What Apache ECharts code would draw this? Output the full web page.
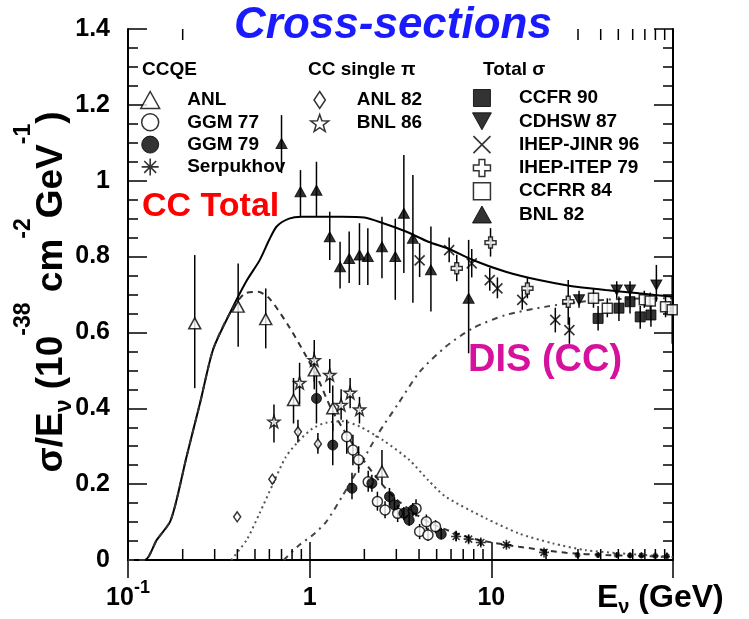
<!DOCTYPE html>
<html><head><meta charset="utf-8">
<script src="https://cdn.jsdelivr.net/npm/echarts@6/dist/echarts.min.js"></script>
<style>html,body{margin:0;padding:0;background:#fff}#c{width:749px;height:619px}</style>
</head><body><div id="c"></div>
<script>
// ---------------- data ----------------
// points: [E (GeV), sigma/E, errLow, errHigh]
const ccqeANL = [[0.233,0.624,0.453,0.804],[0.404,0.668,0.562,0.782],[0.573,0.635,0.558,0.716],[0.815,0.422,0.36,0.48],[1.06,0.50,0.45,0.55],[1.34,0.40,0.34,0.46],[2.5,0.233,0.20,0.29]];
const ccqeGGM77 = [[1.6,0.325,0.28,0.37],[1.73,0.29,0.25,0.33],[1.86,0.264,0.23,0.30],[2.1,0.206,0.18,0.235],[2.36,0.154,0.13,0.18],[2.6,0.132,0.11,0.155],[3.05,0.123,0.10,0.145],[3.85,0.136,0.115,0.16],[4.03,0.075,0.055,0.095],[4.39,0.101,0.08,0.12],[4.48,0.066,0.05,0.085],[4.93,0.088,0.07,0.105]];
const ccqeGGM79 = [[1.09,0.426,0.36,0.50],[1.34,0.303,0.25,0.36],[1.71,0.189,0.16,0.23],[2.2,0.202,0.18,0.225],[2.75,0.167,0.145,0.19],[2.93,0.145,0.125,0.165],[3.3,0.123,0.105,0.14],[3.53,0.105,0.09,0.125],[3.7,0.132,0.115,0.15],[5.3,0.068,0.055,0.085]];
const ccqeSerp = [[6.4,0.062,0.05,0.077],[7.5,0.055,0.045,0.066],[8.75,0.046,0.037,0.056],[12.1,0.04,0.033,0.047],[19.5,0.02,0.013,0.027],[29.8,0.013,0.006,0.02],[38.7,0.013,0.006,0.02],[49,0.013,0.006,0.02],[58,0.012,0.005,0.02],[67,0.012,0.005,0.02],[80,0.011,0.004,0.02],[92.6,0.01,0.004,0.02]];
const piANL82 = [[0.399,0.114,null,null],[0.623,0.213,null,null],[0.862,0.338,0.31,0.37],[1.11,0.306,0.28,0.335]];
const piBNL86 = [[0.636,0.365,0.31,0.41],[0.88,0.467,0.41,0.52],[1.06,0.527,0.47,0.58],[1.29,0.488,0.44,0.53],[1.49,0.409,0.37,0.45],[1.67,0.441,0.40,0.48],[1.88,0.397,0.36,0.43]];
const totCCFR90 = [[38.7,0.637,0.605,0.67],[50.4,0.664,0.63,0.695],[58,0.681,0.65,0.71],[66,0.641,0.61,0.67],[75.6,0.646,0.615,0.675]];
const totCDHSW87 = [[30.4,0.686,0.665,0.71],[49,0.712,0.69,0.735],[58,0.712,0.69,0.735],[81,0.725,0.681,0.778]];
const totIHEPJINR96 = [[4.03,0.79,0.746,0.835],[5.86,0.817,0.785,0.85],[7.8,0.782,0.745,0.82],[9.8,0.738,0.71,0.77],[10.8,0.716,0.69,0.745],[14.8,0.686,0.66,0.71],[22.5,0.633,0.60,0.665],[26.9,0.606,0.57,0.64]];
const totIHEPITEP79 = [[6.45,0.769,0.735,0.805],[9.9,0.837,0.80,0.875],[15.8,0.716,0.69,0.745],[26.5,0.681,0.62,0.738]];
const totCCFRR84 = [[36.5,0.69,0.665,0.715],[43.5,0.664,0.64,0.69],[69.5,0.686,0.665,0.71],[75,0.683,0.66,0.705],[91,0.668,0.64,0.695],[99,0.66,0.57,0.75]];
const totBNL82 = [[0.70,1.098,1.02,1.173],[0.89,0.971,0.905,1.028],[1.09,0.975,0.904,1.05],[1.29,0.852,0.791,0.918],[1.47,0.773,0.716,0.839],[1.65,0.795,0.73,0.866],[1.88,0.804,0.725,0.888],[2.09,0.80,0.725,0.875],[2.5,0.826,0.743,0.905],[2.96,0.80,0.686,0.90],[3.3,0.914,0.757,1.068],[3.7,0.848,0.678,1.015],[4.65,0.765,0.655,0.879],[7.5,0.69,0.545,0.844]];

// model curves
const totalE = [0.1,0.124,0.144,0.17,0.185,0.21,0.249,0.294,0.363,0.448,0.53,0.6,0.66,0.77,0.9,1.5,2.0,2.54,3.39,4.5,5.86,7.9,12,18.3,27.8,42.6,65,100];
const totalV = [0,0,0.053,0.10,0.158,0.272,0.413,0.555,0.65,0.735,0.79,0.845,0.88,0.90,0.905,0.905,0.903,0.888,0.866,0.839,0.82,0.791,0.76,0.738,0.722,0.712,0.703,0.694];
const qeE = [0.1,0.124,0.144,0.17,0.185,0.21,0.249,0.294,0.363,0.44,0.52,0.6,0.77,0.96,1.13,1.31,1.6,2.0,2.5,3.0,4.0,5.0,7.0,9.1,14.2,25.8,42.6,100];
const qeV = [0,0,0.053,0.10,0.158,0.272,0.413,0.555,0.65,0.703,0.707,0.69,0.615,0.536,0.47,0.40,0.33,0.26,0.20,0.16,0.115,0.09,0.064,0.05,0.035,0.019,0.013,0.008];
const piE = [0.37,0.45,0.53,0.63,0.74,0.88,1.04,1.23,1.5,1.88,2.53,3.53,4.5,5.6,9.3,14.2,21.7,33,50,100];
const piV = [0,0.053,0.123,0.202,0.272,0.316,0.347,0.362,0.366,0.352,0.316,0.264,0.21,0.167,0.11,0.07,0.044,0.026,0.018,0.008];
const disE = [0.72,0.88,1.04,1.23,1.52,1.9,2.36,3.1,4.03,5.6,7.9,12,20,30,50,100];
const disV = [0,0.04,0.066,0.10,0.17,0.25,0.33,0.415,0.496,0.562,0.611,0.646,0.668,0.68,0.688,0.69];

const minorTickE = [0.2,0.3,0.4,0.5,0.6,0.7,0.8,0.9,2,3,4,5,6,7,8,9,20,30,40,50,60,70,80,90];
const yTicks = {min:0, max:1.4, interval:0.2};

// ---------------- styling ----------------
const FONT = '"Liberation Sans", Arial, Helvetica, sans-serif';
const SYM = {
  tri: 'path://M5,0L10,9L0,9Z',
  circ: 'circle',
  ast: 'path://M5,0L5,10M0,5L10,5M1.5,1.5L8.5,8.5M8.5,1.5L1.5,8.5',
  dia: 'path://M4,0L8,6L4,12L0,6Z',
  star: 'path://M10,0L12.35,6.76L19.51,6.91L13.8,11.24L15.88,18.09L10,14L4.12,18.09L6.2,11.24L0.49,6.91L7.65,6.76Z',
  sq: 'path://M0,0L10,0L10,10L0,10Z',
  dtri: 'path://M0,0L10,0L5,9Z',
  x: 'path://M0,0L10,10M10,0L0,10',
  plus: 'path://M3.3,0L6.7,0L6.7,3.3L10,3.3L10,6.7L6.7,6.7L6.7,10L3.3,10L3.3,6.7L0,6.7L0,3.3L3.3,3.3Z'
};
const OPEN = {color:'#fff', borderColor:'#000', borderWidth:1.5};
const FILL = {color:'#000', borderColor:'#000', borderWidth:1};
const LINEY = {color:'rgba(0,0,0,0)', borderColor:'#000', borderWidth:1.6};

const sets = [
  {name:'ANL', d:ccqeANL, sym:SYM.tri, size:[12,11], st:OPEN},
  {name:'GGM 77', d:ccqeGGM77, sym:SYM.circ, size:10, st:OPEN},
  {name:'GGM 79', d:ccqeGGM79, sym:SYM.circ, size:10, st:FILL},
  {name:'Serpukhov', d:ccqeSerp, sym:SYM.ast, size:(v)=> v[0] > 25 ? 6 : 10, st:LINEY},
  {name:'ANL 82', d:piANL82, sym:SYM.dia, size:[7,10], st:OPEN},
  {name:'BNL 86', d:piBNL86, sym:SYM.star, size:12, st:OPEN},
  {name:'CCFR 90', d:totCCFR90, sym:SYM.sq, size:10, st:FILL},
  {name:'CDHSW 87', d:totCDHSW87, sym:SYM.dtri, size:[11,10], st:FILL},
  {name:'IHEP-JINR 96', d:totIHEPJINR96, sym:SYM.x, size:10, st:LINEY},
  {name:'IHEP-ITEP 79', d:totIHEPITEP79, sym:SYM.plus, size:11, st:OPEN},
  {name:'CCFRR 84', d:totCCFRR84, sym:SYM.sq, size:10, st:OPEN},
  {name:'BNL 82', d:totBNL82, sym:SYM.tri, size:[11,10], st:FILL}
];

const zip = (a, b) => a.map((x, i) => [x, b[i]]);

const series = [];
// minor ticks of the log axes
series.push({
  type:'custom', name:'minor', silent:true, z:5, clip:false,
  data: minorTickE.map(v => [v, 0]),
  encode:{x:0, y:1},
  renderItem:(params, api) => {
    const x = api.coord([api.value(0), 0])[0];
    const cs = params.coordSys;
    const yb = cs.y + cs.height, yt = cs.y;
    return {type:'group', children:[
      {type:'line', shape:{x1:x, y1:yb, x2:x, y2:yb-11}, style:{stroke:'#000', lineWidth:1.5}},
      {type:'line', shape:{x1:x, y1:yt, x2:x, y2:yt+11}, style:{stroke:'#000', lineWidth:1.5}}
    ]};
  }
});
// curves
const curve = (name, e, v, ls) => ({type:'line', name, data:zip(e, v), showSymbol:false, smooth:0.25, z:1, silent:true, lineStyle:ls});
series.push(curve('CC Total', totalE, totalV, {color:'#000', width:2, type:'solid'}));
series.push(curve('CCQE', qeE, qeV, {color:'#333', width:2, type:[6,5]}));
series.push(curve('single pi', piE, piV, {color:'#555', width:2, type:[2,3.5]}));
series.push(curve('DIS', disE, disV, {color:'#444', width:2, type:[6,5,2,5]}));
// error bars + markers
sets.forEach(s => {
  series.push({
    type:'custom', name:s.name + ' err', silent:true, z:2,
    data: s.d.filter(p => p[2] != null).map(p => [p[0], p[2], p[3]]),
    encode:{x:0, y:[1,2]},
    renderItem:(params, api) => {
      const a = api.coord([api.value(0), api.value(1)]);
      const b = api.coord([api.value(0), api.value(2)]);
      return {type:'line', shape:{x1:a[0], y1:a[1], x2:b[0], y2:b[1]}, style:{stroke:'#000', lineWidth:1.5}};
    }
  });
  series.push({
    type:'scatter', name:s.name, z:3, silent:true,
    data: s.d.map(p => [p[0], p[1]]),
    symbol:s.sym, symbolSize:s.size,
    itemStyle:s.st
  });
});

const legItem = (name) => {
  const s = sets.find(q => q.name === name);
  return {name, icon:s.sym, itemStyle:s.st};
};
const legBase = {
  orient:'vertical', padding:0, itemWidth:64, itemHeight:17, selectedMode:false, symbolKeepAspect:true,
  textStyle:{fontSize:19, fontWeight:'bold', fontFamily:FONT, color:'#000', lineHeight:22}
};

const txt = (x, y, text, font, fill, extra) => Object.assign({
  type:'text', x, y, z:101,
  style:Object.assign({text, font, fill, align:'left', verticalAlign:'middle', textAlign:'left', textVerticalAlign:'middle'}, extra || {})
});

const chart = echarts.init(document.getElementById('c'), null, {renderer:'canvas'});
chart.setOption({
  animation:false,
  backgroundColor:'#fff',
  grid:{left:128, top:29, width:545, height:531, containLabel:false, outerBoundsMode:'none'},
  xAxis:[
    {type:'log', logBase:10, min:0.1, max:100, position:'bottom',
     axisLine:{lineStyle:{color:'#000', width:2}},
     axisTick:{inside:true, length:18, lineStyle:{color:'#000', width:1.5}},
     minorTick:{show:false}, splitLine:{show:false},
     axisLabel:{margin:19, color:'#000', showMinLabel:true, showMaxLabel:true,
       formatter:(v) => {
         const k = Math.round(Math.log10(v));
         if (k === -1) return '{b|10}{s|-1}';
         if (k === 0) return '{b|1}';
         if (k === 1) return '{b|10}';
         return '';
       },
       rich:{
         b:{fontSize:25, fontWeight:'bold', fontFamily:FONT, color:'#000', lineHeight:39, verticalAlign:'middle'},
         s:{fontSize:18, fontWeight:'bold', fontFamily:FONT, color:'#000', lineHeight:18, verticalAlign:'top'}
       }}},
    {type:'log', logBase:10, min:0.1, max:100, position:'top',
     axisLine:{lineStyle:{color:'#000', width:2}},
     axisTick:{inside:true, length:18, lineStyle:{color:'#000', width:1.5}},
     axisLabel:{show:false}, splitLine:{show:false}}
  ],
  yAxis:[
    {type:'value', min:yTicks.min, max:yTicks.max, interval:yTicks.interval, position:'left',
     axisLine:{show:true, lineStyle:{color:'#000', width:2}},
     axisTick:{show:true, inside:true, length:19, lineStyle:{color:'#000', width:1.5}},
     minorTick:{show:true, splitNumber:4, length:10, lineStyle:{color:'#000', width:1.5}},
     axisLabel:{margin:18, color:'#000', fontSize:25, fontWeight:'bold', fontFamily:FONT},
     splitLine:{show:false}},
    {type:'value', min:yTicks.min, max:yTicks.max, interval:yTicks.interval, position:'right',
     axisLine:{show:true, lineStyle:{color:'#000', width:2}},
     axisTick:{show:true, inside:true, length:19, lineStyle:{color:'#000', width:1.5}},
     minorTick:{show:true, splitNumber:4, length:10, lineStyle:{color:'#000', width:1.5}},
     axisLabel:{show:false}, splitLine:{show:false}}
  ],
  legend:[
    Object.assign({}, legBase, {left:140, top:89, itemGap:0.3, data:['ANL','GGM 77','GGM 79','Serpukhov'].map(legItem)}),
    Object.assign({}, legBase, {left:310, top:89, itemGap:1, data:['ANL 82','BNL 86'].map(legItem)}),
    Object.assign({}, legBase, {left:472, top:87, itemGap:1.3, data:['CCFR 90','CDHSW 87','IHEP-JINR 96','IHEP-ITEP 79','CCFRR 84','BNL 82'].map(legItem)})
  ],
  graphic:[
    {type:'rect', z:100, shape:{x:211, y:0, width:361, height:48}, style:{fill:'#fff'}},
    txt(393, 26, 'Cross-sections', 'italic bold 44px ' + FONT, '#1a1aff', {align:'center', textAlign:'center'}),
    txt(142, 70, 'CCQE', 'bold 19px ' + FONT, '#000'),
    txt(308, 70, 'CC single π', 'bold 19px ' + FONT, '#000'),
    txt(483, 70, 'Total σ', 'bold 19px ' + FONT, '#000'),
    txt(142, 207, 'CC Total', 'bold 34px ' + FONT, '#ff0000'),
    txt(468, 361, 'DIS (CC)', 'bold 38px ' + FONT, '#d6119d'),
    {type:'text', x:52, y:292, rotation:Math.PI/2, z:101,
     style:{text:'{a|σ/E}{b|ν}{a| (10}{c|-38}{a| cm}{c|-2}{a|GeV}{c|-1}{a|)}',
       fill:'#000', align:'center', verticalAlign:'middle', textAlign:'center', textVerticalAlign:'middle',
       font:'bold 37px ' + FONT,
       rich:{
         a:{fontSize:37, fontWeight:'bold', fontFamily:FONT, fill:'#000', lineHeight:80, verticalAlign:'middle'},
         b:{fontSize:23, fontWeight:'bold', fontFamily:FONT, fill:'#000', height:54, lineHeight:54, verticalAlign:'bottom'},
         c:{fontSize:23, fontWeight:'bold', fontFamily:FONT, fill:'#000', lineHeight:23, verticalAlign:'top'}
       }}},
    {type:'text', x:597, y:598, z:101,
     style:{text:'{a|E}{b|ν}{a| (GeV)}', fill:'#000', align:'left', verticalAlign:'middle', textAlign:'left', textVerticalAlign:'middle',
       font:'bold 32px ' + FONT,
       rich:{
         a:{fontSize:32, fontWeight:'bold', fontFamily:FONT, fill:'#000', lineHeight:32, verticalAlign:'middle'},
         b:{fontSize:20, fontWeight:'bold', fontFamily:FONT, fill:'#000', height:14, lineHeight:14, verticalAlign:'bottom'}
       }}}
  ],
  series
});
</script></body></html>
